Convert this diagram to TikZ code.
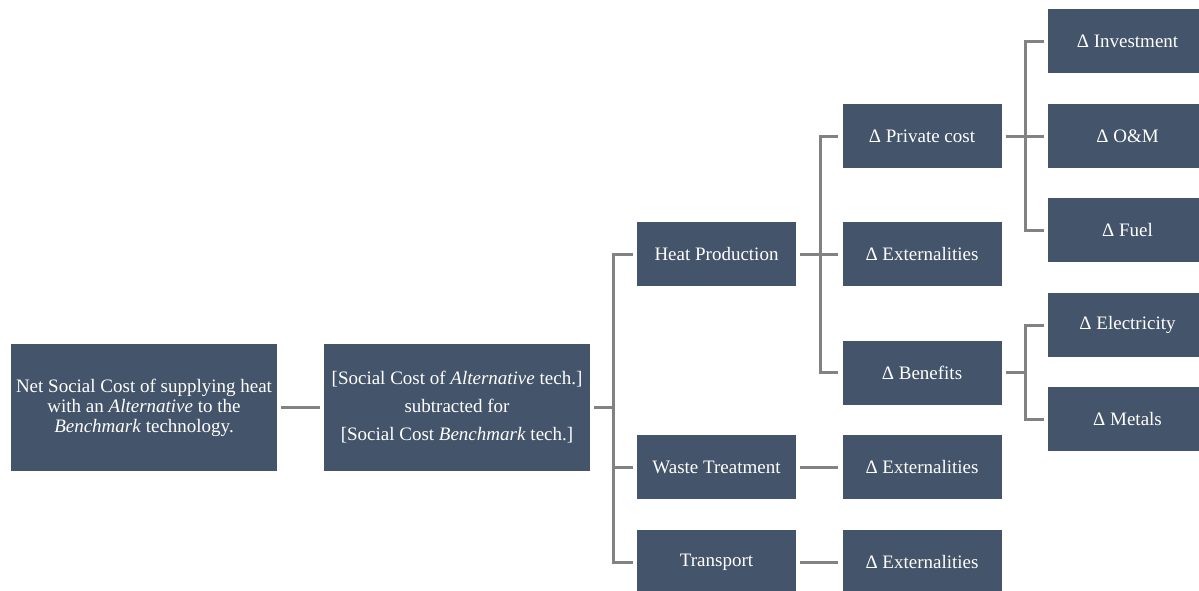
\documentclass[tikz,border=0pt]{standalone}
\usepackage{fontspec}
\setmainfont{Liberation Serif}
\newfontfamily\tnr{Liberation Serif}
\definecolor{boxc}{HTML}{44546A}
\definecolor{linec}{HTML}{828282}
\begin{document}
\begin{tikzpicture}[x=1pt,y=-1pt,
  box/.style={rectangle, fill=boxc, text=white, inner sep=0pt,
    minimum width=159pt, minimum height=64pt, align=center,
    font=\tnr\fontsize{19pt}{20pt}\selectfont},
  bigbox/.style={box, minimum width=266pt, minimum height=127pt},
  conn/.style={draw=linec, line width=3pt}]
\useasboundingbox (0,0) rectangle (1199,590);
% level 0/1
\node[bigbox] (net) at (144,407.5) {Net Social Cost of supplying heat\\with an \textit{Alternative} to the\\\textit{Benchmark} technology.};
\node[bigbox, font=\tnr\fontsize{19pt}{28pt}\selectfont] (sc) at (457,407.5) {{[}Social Cost of \textit{Alternative} tech.{]}\\subtracted for\\{[}Social Cost \textit{Benchmark} tech.{]}};
% level 2
\node[box] (heat) at (716.5,254) {Heat Production};
\node[box] (waste) at (716.5,467) {Waste Treatment};
\node[box] (trans) at (716.5,562) {Transport};
% level 3
\node[box] (priv) at (922,136) {Δ Private cost};
\node[box] (ext1) at (922,254) {Δ Externalities};
\node[box] (ben) at (922,372.5) {Δ Benefits};
\node[box] (ext2) at (922,467) {Δ Externalities};
\node[box] (ext3) at (922,562) {Δ Externalities};
% level 4
\node[box] (inv) at (1127.5,41) {Δ Investment};
\node[box] (om) at (1127.5,136) {Δ O\&M};
\node[box] (fuel) at (1127.5,230) {Δ Fuel};
\node[box] (elec) at (1127.5,325) {Δ Electricity};
\node[box] (met) at (1127.5,419) {Δ Metals};
% trunk coordinates
\coordinate (t1) at (613,0);
\coordinate (t2) at (820,0);
\coordinate (t3) at (1025,0);
% connectors
\draw[conn] ([xshift=4pt]net.east) -- ([xshift=-4pt]sc.west);
\draw[conn] ([xshift=4pt]sc.east) -- (sc.east -| t1);
\draw[conn] ([xshift=-4pt]heat.west) -| (t1 |- sc.east) |- ([xshift=-4pt]trans.west);
\draw[conn] (t1 |- waste.west) -- ([xshift=-4pt]waste.west);
\draw[conn] ([xshift=4pt]heat.east) -- ([xshift=-4pt]ext1.west);
\draw[conn] ([xshift=-4pt]priv.west) -| (t2 |- heat.east) |- ([xshift=-4pt]ben.west);
\draw[conn] ([xshift=4pt]waste.east) -- ([xshift=-4pt]ext2.west);
\draw[conn] ([xshift=4pt]trans.east) -- ([xshift=-4pt]ext3.west);
\draw[conn] ([xshift=4pt]priv.east) -- ([xshift=-4pt]om.west);
\draw[conn] ([xshift=-4pt]inv.west) -| (t3 |- om.west) |- ([xshift=-4pt]fuel.west);
\draw[conn] ([xshift=4pt]ben.east) -- (ben.east -| t3);
\draw[conn] ([xshift=-4pt]elec.west) -| (t3 |- ben.east) |- ([xshift=-4pt]met.west);
\end{tikzpicture}
\end{document}
